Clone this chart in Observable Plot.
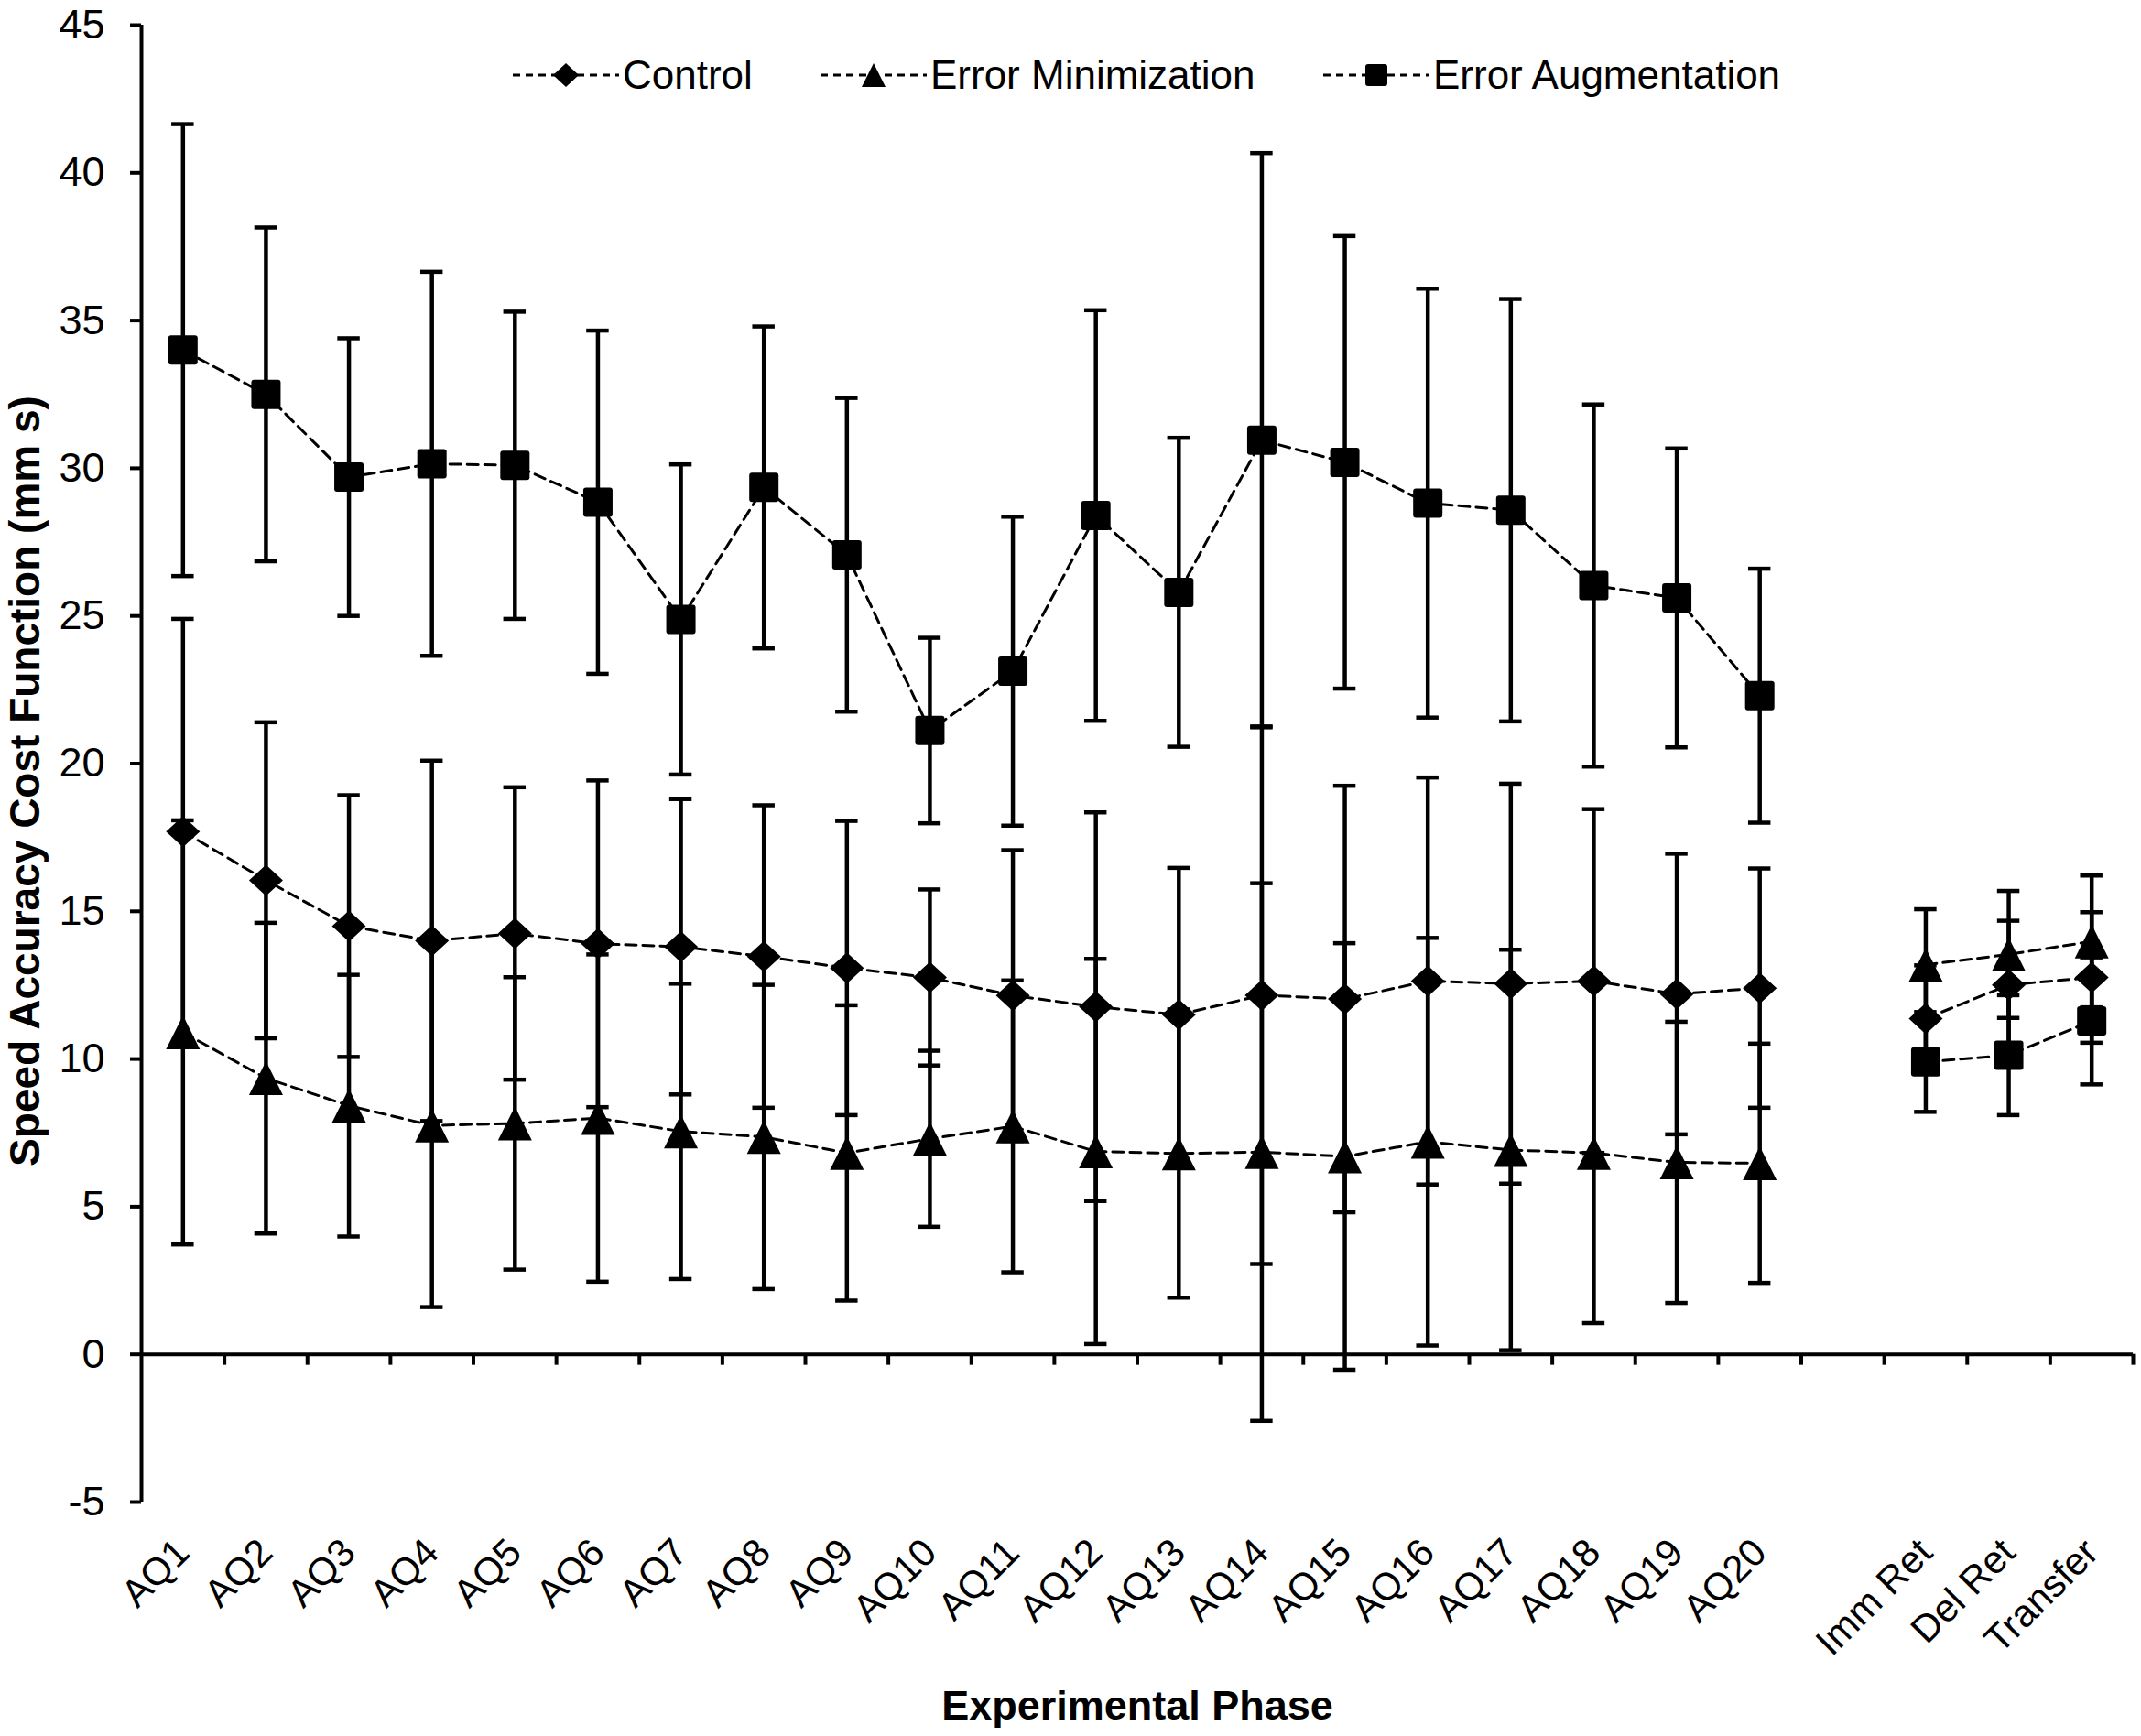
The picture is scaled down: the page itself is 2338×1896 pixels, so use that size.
<!DOCTYPE html>
<html>
<head>
<meta charset="utf-8">
<script src="https://cdn.jsdelivr.net/npm/d3@7"></script>
<script src="https://cdn.jsdelivr.net/npm/@observablehq/plot@0.6"></script>
<style>
  html, body { margin: 0; padding: 0; background: #fff; }
  #wrap { position: relative; width: 2338px; height: 1896px; font-family: "Liberation Sans", Arial, sans-serif; }
  .leg { position: absolute; top: 57px; height: 50px; display: flex; align-items: center; font-size: 44px; color: #000; white-space: nowrap; }
  .leg svg { display: block; margin-right: 4px; }
</style>
</head>
<body>
<div id="wrap"></div>
<script>
// ---- data ----
const categories = ["AQ1","AQ2","AQ3","AQ4","AQ5","AQ6","AQ7","AQ8","AQ9","AQ10",
  "AQ11","AQ12","AQ13","AQ14","AQ15","AQ16","AQ17","AQ18","AQ19","AQ20",
  "", "Imm Ret","Del Ret","Transfer"];
const yTicks = [-5, 0, 5, 10, 15, 20, 25, 30, 35, 40, 45];

const controlMean = [17.7, 16.05, 14.5, 14.0, 14.25, 13.9, 13.8, 13.47, 13.08, 12.76,
  12.15, 11.77, 11.5, 12.16, 12.03, 12.64, 12.55, 12.64, 12.2, 12.4, null, 11.37, 12.51, 12.76];
const controlSD = [7.2, 5.35, 4.43, 6.1, 4.95, 5.53, 5.0, 5.12, 4.98, 2.98,
  4.92, 6.58, 4.97, 9.1, 7.22, 6.89, 6.77, 5.82, 4.75, 4.05, null, 1.8, 2.17, 2.21];

const emMean = [10.9, 9.35, 8.42, 7.75, 7.82, 8.0, 7.55, 7.36, 6.82, 7.3,
  7.72, 6.87, 6.8, 6.85, 6.7, 7.2, 6.92, 6.82, 6.5, 6.47, null, 13.19, 13.54, 13.98];
const emSD = [7.18, 5.26, 4.43, 6.15, 4.95, 5.54, 5.0, 5.15, 5.0, 2.98,
  4.94, 6.52, 4.88, 9.1, 7.22, 6.9, 6.78, 5.76, 4.76, 4.05, null, 1.88, 2.15, 2.23];

const eaMean = [34.0, 32.5, 29.7, 30.15, 30.1, 28.85, 24.88, 29.35, 27.07, 21.12,
  23.13, 28.4, 25.8, 30.95, 30.2, 28.82, 28.58, 26.03, 25.61, 22.3, null, 9.9, 10.13, 11.29];
const eaSD = [7.65, 5.65, 4.7, 6.5, 5.2, 5.81, 5.25, 5.45, 5.31, 3.14,
  5.23, 6.95, 5.23, 9.72, 7.66, 7.26, 7.15, 6.13, 5.06, 4.3, null, 1.69, 2.03, 2.15];

const seriesNames = ["Control", "Error Minimization", "Error Augmentation"];
const acquisitionCount = 20;

// ---- symbols ----
const diamondSym = {draw(ctx, size) {
  const r = Math.sqrt(size / Math.PI), h = r * 0.92;
  ctx.moveTo(0, -h); ctx.lineTo(r, 0); ctx.lineTo(0, h); ctx.lineTo(-r, 0); ctx.closePath();
}};
const triangleSym = {draw(ctx, size) {
  const r = Math.sqrt(size / Math.PI);
  ctx.moveTo(0, -r); ctx.lineTo(r, r); ctx.lineTo(-r, r); ctx.closePath();
}};
const squareSym = {draw(ctx, size) {
  const r = Math.sqrt(size / Math.PI), c = 3;
  ctx.moveTo(-r + c, -r); ctx.lineTo(r - c, -r); ctx.arcTo(r, -r, r, -r + c, c);
  ctx.lineTo(r, r - c); ctx.arcTo(r, r, r - c, r, c);
  ctx.lineTo(-r + c, r); ctx.arcTo(-r, r, -r, r - c, c);
  ctx.lineTo(-r, -r + c); ctx.arcTo(-r, -r, -r + c, -r, c); ctx.closePath();
}};

// ---- build rows ----
function rows(name, mean, sd) {
  const out = [];
  mean.forEach((m, i) => {
    if (m == null) return;
    out.push({series: name, x: i + 0.5, mean: m, lo: m - sd[i], hi: m + sd[i],
      group: i < acquisitionCount ? "acq" : "ret"});
  });
  return out;
}
const control = rows(seriesNames[0], controlMean, controlSD);
const em = rows(seriesNames[1], emMean, emSD);
const ea = rows(seriesNames[2], eaMean, eaSD);
const all = [...control, ...em, ...ea];

const labels = categories.map((c, i) => ({label: c, x: i + 0.5})).filter(d => d.label !== "");
const boundaries = d3.range(1, categories.length + 1);

const capHalf = 0.135;
const tickLen = 0.37;
const dash = "12,7";
const font = "Liberation Sans, Arial, sans-serif";

const chart = Plot.plot({
  width: 2338,
  height: 1896,
  marginLeft: 154,
  marginRight: 9,
  marginTop: 27,
  marginBottom: 256,
  style: {fontFamily: font, background: "#fff", color: "#000"},
  x: {type: "linear", domain: [0, categories.length], axis: null},
  y: {type: "linear", domain: [-5, 45], axis: null},
  marks: [
    // axes
    Plot.axisY({ticks: yTicks, tickSize: 12, tickPadding: 28, fontSize: 45, strokeWidth: 4, tickFormat: d => String(d), label: null}),
    Plot.ruleX([0], {y1: -5, y2: 45, strokeWidth: 4}),
    Plot.ruleY([0], {x1: 0, x2: categories.length, strokeWidth: 4}),
    Plot.ruleX(boundaries, {x: d => d, y1: 0, y2: -tickLen, strokeWidth: 4}),
    // error bars
    Plot.ruleX(all, {x: "x", y1: "lo", y2: "hi", strokeWidth: 4.5}),
    Plot.ruleY(all, {y: "lo", x1: d => d.x - capHalf, x2: d => d.x + capHalf, strokeWidth: 4.5}),
    Plot.ruleY(all, {y: "hi", x1: d => d.x - capHalf, x2: d => d.x + capHalf, strokeWidth: 4.5}),
    // dashed lines
    Plot.line(all, {x: "x", y: "mean", z: d => d.series + d.group, stroke: "#000", strokeWidth: 3, strokeDasharray: dash}),
    // markers
    Plot.dot(control, {x: "x", y: "mean", symbol: diamondSym, r: 18.5, fill: "#000", stroke: "none"}),
    Plot.dot(em, {x: "x", y: "mean", symbol: triangleSym, r: 18.5, fill: "#000", stroke: "none"}),
    Plot.dot(ea, {x: "x", y: "mean", symbol: squareSym, r: 16, fill: "#000", stroke: "none"}),
    // x tick labels
    Plot.text(labels, {x: "x", y: -5, text: "label", rotate: -45, textAnchor: "end", lineAnchor: "middle",
      fontSize: 42, dx: 0, dy: 48, fill: "#000"}),
    // axis titles
    Plot.text(["Experimental Phase"], {frameAnchor: "bottom", text: d => d, fontSize: 45, fontWeight: "bold",
      lineAnchor: "middle", dy: 223, fill: "#000"}),
    Plot.text(["Speed Accuracy Cost Function (mm s)"], {frameAnchor: "left", text: d => d, fontSize: 46, fontWeight: "bold",
      rotate: -90, lineAnchor: "middle", textAnchor: "middle", dx: -126, dy: 19, fill: "#000"})
  ]
});

const wrap = document.getElementById("wrap");
wrap.appendChild(chart);

// ---- legend ----
function symPath(sym, r) {
  const p = d3.path();
  sym.draw(p, Math.PI * r * r);
  return p.toString();
}
const legendItems = [
  {name: seriesNames[0], sym: diamondSym, r: 14, left: 560},
  {name: seriesNames[1], sym: triangleSym, r: 13, left: 896},
  {name: seriesNames[2], sym: squareSym, r: 12, left: 1445}
];
legendItems.forEach(it => {
  const div = document.createElement("div");
  div.className = "leg";
  div.style.left = it.left + "px";
  div.innerHTML = `<svg width="116" height="40" viewBox="0 0 116 40">
    <line x1="0" y1="20" x2="116" y2="20" stroke="#000" stroke-width="3" stroke-dasharray="8,6"/>
    <path transform="translate(58,20)" d="${symPath(it.sym, it.r)}" fill="#000"/>
  </svg><span>${it.name}</span>`;
  wrap.appendChild(div);
});
</script>
</body>
</html>
